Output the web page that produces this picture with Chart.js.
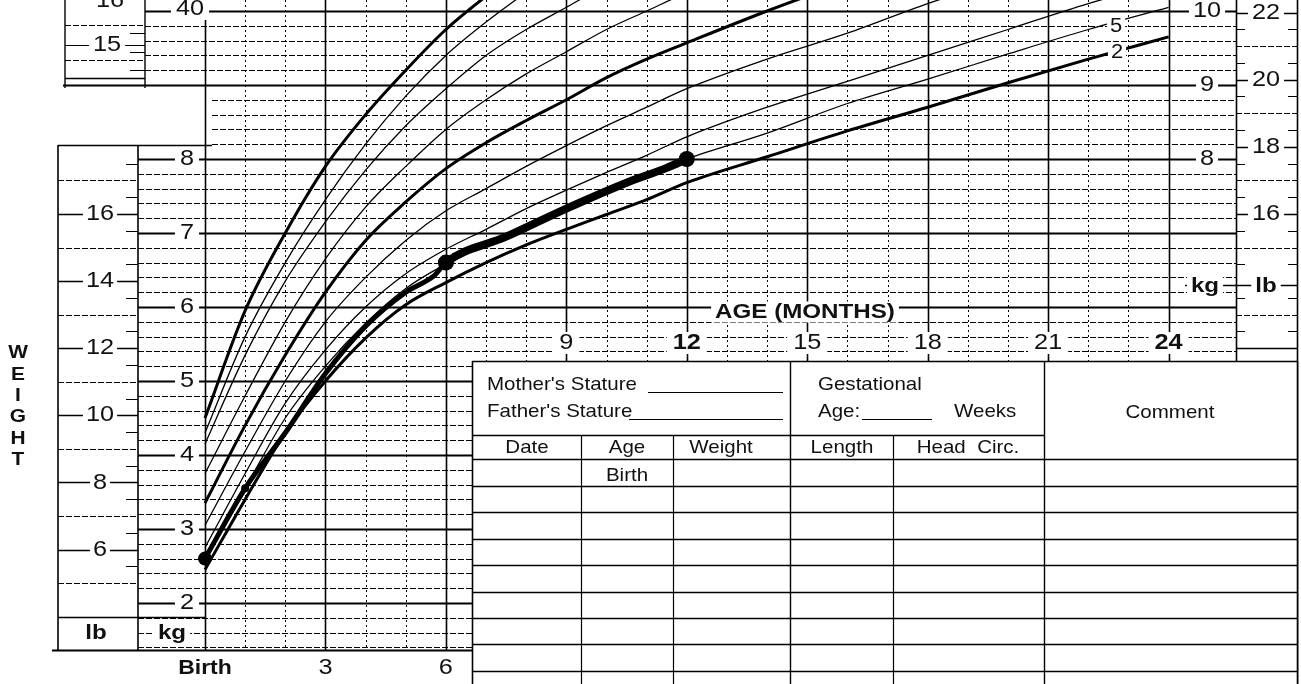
<!DOCTYPE html>
<html><head><meta charset="utf-8">
<script src="https://cdn.jsdelivr.net/npm/chart.js@4.4.1/dist/chart.umd.min.js"></script>
<style>html,body{margin:0;padding:0;background:#fff;}canvas{display:block;}</style>
</head><body>
<canvas id="c" width="1301" height="684"></canvas>
<script>
// ---------- DATA ----------
const months = [0,1,2,3,4,5,6,7,8,9,10,11,12,14,16,18,20,22,24];
const p98 = [4.5,5.95,7.0,7.9,8.6,9.2,9.75,10.2,10.6,10.95,11.3,11.6,11.9,12.4,12.9,13.3,13.7,14.1,14.5];
const p95 = [4.3,5.6,6.6,7.45,8.2,8.85,9.4,9.85,10.25,10.6,10.9,11.2,11.45,11.95,12.4,12.8,13.2,13.6,13.9];
const p90 = [4.15,5.35,6.35,7.15,7.85,8.45,8.95,9.4,9.75,10.05,10.35,10.6,10.85,11.3,11.7,12.1,12.5,12.85,13.2];
const p75 = [3.75,4.8,5.8,6.65,7.35,7.9,8.4,8.8,9.15,9.45,9.75,10.0,10.25,10.7,11.1,11.5,11.85,12.2,12.5];
const p50 = [3.35,4.4,5.35,6.2,6.9,7.42,7.87,8.22,8.52,8.8,9.1,9.35,9.57,10.0,10.4,10.8,11.15,11.5,11.8];
const p25 = [3.05,4.05,5.0,5.8,6.4,6.9,7.3,7.6,7.9,8.18,8.45,8.7,8.95,9.35,9.7,10.1,10.45,10.8,11.1];
const p10 = [2.75,3.75,4.7,5.42,6.0,6.45,6.78,7.05,7.33,7.58,7.82,8.05,8.3,8.7,9.05,9.4,9.75,10.1,10.4];
const p5  = [2.6,3.55,4.5,5.2,5.78,6.25,6.58,6.85,7.1,7.32,7.55,7.78,8.0,8.35,8.75,9.08,9.42,9.75,10.05];
const p2  = [2.45,3.4,4.3,5.0,5.58,6.03,6.33,6.6,6.84,7.05,7.25,7.45,7.68,8.03,8.38,8.7,9.03,9.35,9.65];
const percentileNames = ['98','95','90','75','50','25','10','5','2'];
const majorPercentiles = ['98','50','2'];

const patientMonths = [0,1,2,3,4,5,5.7,6,7.5,9,10.5,11.5,12];
const patientKg     = [2.6,3.55,4.3,5.1,5.74,6.2,6.42,6.6,6.95,7.33,7.68,7.88,8.0];
const visitAges     = [0,1,6,12];

const lowerAgeTicks  = [0,3,6];
const lowerAgeLabels = ['Birth','3','6'];
const upperAgeTicks  = [9,12,15,18,21,24];
const upperAgeLabels = ['9','12','15','18','21','24'];
const boldAges = [0,12,24];
const kgTicksLeft  = [2,3,4,5,6,7,8];
const kgTicksRight = [8,9,10];
const lbTicksLeft  = [6,8,10,12,14,16];
const lbTicksRight = [16,18,20,22];

// ---------- GEOMETRY ----------
const W = 1301, H = 684;
const X_BIRTH = 205, PX_PER_MONTH = 40.15, Y_KG0 = 751, PX_PER_KG = 74;
const KG_PER_LB = 0.45359237;
const TABLE_TOP = 361, TABLE_LEFT = 472, RIGHT_EDGE = 1236, FAR_RIGHT = 1297, GRID_BOTTOM = 650;
const FONT = '"Liberation Sans", Arial, Helvetica, sans-serif';

function L(ctx, x1, y1, x2, y2, w, dash) {
  ctx.beginPath(); ctx.lineWidth = w; ctx.setLineDash(dash || []);
  ctx.moveTo(x1, y1); ctx.lineTo(x2, y2); ctx.stroke(); ctx.setLineDash([]);
}
function T(ctx, s, x, y, size, bold, align, sx, bg) {
  sx = sx || 1; align = align || 'center';
  ctx.save();
  ctx.font = (bold ? 'bold ' : '') + size + 'px ' + FONT;
  ctx.textAlign = align; ctx.textBaseline = 'middle';
  const w = ctx.measureText(s).width * sx;
  if (bg !== undefined && bg !== null) {
    const left = align === 'left' ? x : (align === 'right' ? x - w : x - w / 2);
    ctx.fillStyle = '#fff';
    ctx.fillRect(left - bg, y - size * 0.5, w + 2 * bg, size * 1.0);
  }
  ctx.translate(x, y); ctx.scale(sx, 1);
  ctx.fillStyle = '#111'; ctx.fillText(s, 0, 0);
  ctx.restore();
}

const formPlugin = {
  id: 'form',
  beforeDatasetsDraw(chart) {
    const ctx = chart.ctx, xs = chart.scales.x, ys = chart.scales.y;
    const X = m => xs.getPixelForValue(m), Y = k => ys.getPixelForValue(k), YL = lb => Y(lb * KG_PER_LB);
    ctx.save();
    ctx.fillStyle = '#fff'; ctx.fillRect(0, 0, W, H);
    ctx.strokeStyle = '#000';

    // horizontal kg grid (0.2 kg)
    for (let i = 7; i <= 51; i++) {
      const kg = i / 5, y = Math.round(Y(kg)) + 0.5;
      if (y < 2 || y > GRID_BOTTOM - 1) continue;
      const x1 = y < 88 ? 145 : (y < 145 ? 212 : 138);
      const x2 = y > TABLE_TOP - 4 ? TABLE_LEFT : RIGHT_EDGE;
      if (i % 5 === 0) L(ctx, x1, y, x2, y, 1.8);
      else L(ctx, x1, y, x2, y, 1, [6, 2]);
    }
    // vertical month grid
    for (let m = 0; m <= 24; m++) {
      const x = Math.round(X(m)) + 0.5;
      const yb = x < TABLE_LEFT ? GRID_BOTTOM : TABLE_TOP;
      if (m % 3 === 0) L(ctx, x, 0, x, yb, 1.6);
      else L(ctx, x, 0, x, yb, 1, [2, 3]);
    }

    // left lb column
    L(ctx, 58, 145, 58, GRID_BOTTOM, 1.6);
    L(ctx, 138, 145, 138, GRID_BOTTOM, 1.6);
    L(ctx, 58, 145.5, 212, 145.5, 1.6);
    L(ctx, 58, 617.5, 205, 617.5, 1.6);
    L(ctx, 52, GRID_BOTTOM + .5, TABLE_LEFT, GRID_BOTTOM + .5, 1.8);
    for (let lb = 5; lb <= 17.5; lb += 0.5) {
      const y = Math.round(YL(lb)) + 0.5;
      if (y < 148 || y > 615) continue;
      if (lb % 2 === 0) L(ctx, 58, y, 138, y, 1.4);
      else if (lb % 1 === 0) L(ctx, 58, y, 138, y, 1, [6, 2]);
      else L(ctx, 126, y, 138, y, 1);
    }
    lbTicksLeft.forEach(lb => T(ctx, String(lb), 100, YL(lb), 22, false, 'center', 1.15, 3));
    kgTicksLeft.forEach(kg => T(ctx, String(kg), 187, Y(kg), 22, false, 'center', 1.15, 5));
    T(ctx, 'lb', 96, 633, 21, true, 'center', 1.15, 4);
    T(ctx, 'kg', 172, 633, 21, true, 'center', 1.15, 4);

    // top-left panel (length chart fragment)
    L(ctx, 65, 0, 65, 88, 1.4);
    L(ctx, 145, 0, 145, 88, 1.4);
    L(ctx, 65, 78.5, 145, 78.5, 1.4);
    L(ctx, 63, Math.round(Y(9)) + .5, 145, Math.round(Y(9)) + .5, 1.8);
    L(ctx, 65, 25.5, 145, 25.5, 1, [6, 2]);
    L(ctx, 65, 60.5, 145, 60.5, 1, [6, 2]);
    [33, 52, 70].forEach(y => L(ctx, 130, y + .5, 145, y + .5, 1));
    L(ctx, 65, 45.5, 145, 45.5, 1.2);
    T(ctx, '15', 107, 45, 22, false, 'center', 1.15, 4);
    T(ctx, '16', 110, 1, 22, false, 'center', 1.15, 4);
    T(ctx, '40', 190, 9, 22, false, 'center', 1.15, 5);

    // right lb column
    L(ctx, RIGHT_EDGE + .5, 0, RIGHT_EDGE + .5, TABLE_TOP, 1.6);
    L(ctx, FAR_RIGHT + .5, 0, FAR_RIGHT + .5, H, 1.6);
    L(ctx, RIGHT_EDGE, 348.5, FAR_RIGHT, 348.5, 1.4);
    for (let lb = 12.5; lb <= 23; lb += 0.5) {
      const y = Math.round(YL(lb)) + 0.5;
      if (y < 2 || y > 346) continue;
      if (lb === 14) continue;
      if (lb % 2 === 0) L(ctx, RIGHT_EDGE, y, FAR_RIGHT, y, 1.4);
      else if (lb % 1 === 0) L(ctx, RIGHT_EDGE, y, FAR_RIGHT, y, 1, [6, 2]);
      else { L(ctx, RIGHT_EDGE, y, RIGHT_EDGE + 9, y, 1); L(ctx, FAR_RIGHT - 9, y, FAR_RIGHT, y, 1); }
    }
    L(ctx, 1185, 285.5, FAR_RIGHT, 285.5, 1.4);
    lbTicksRight.forEach(lb => T(ctx, String(lb), 1266, YL(lb), 22, false, 'center', 1.15, 4));
    kgTicksRight.forEach(kg => T(ctx, String(kg), 1207, Y(kg), 22, false, 'center', 1.15, 4));
    T(ctx, 'kg', 1205, 286, 21, true, 'center', 1.15, 4);
    T(ctx, 'lb', 1266, 286, 21, true, 'center', 1.15, 4);

    // age labels
    lowerAgeTicks.forEach((m, i) => T(ctx, lowerAgeLabels[i], X(m), 668, m === 0 ? 20 : 22, boldAges.includes(m), 'center', 1.15));
    upperAgeTicks.forEach((m, i) => T(ctx, upperAgeLabels[i], X(m), 343, 22, boldAges.includes(m), 'center', 1.15, 6));
    T(ctx, 'AGE (MONTHS)', 805, 312, 21, true, 'center', 1.15, 4);

    // WEIGHT vertical title
    ['W','E','I','G','H','T'].forEach((c, i) => T(ctx, c, 18, 353 + i * 21.4, 19, true, 'center', 1.1));

    // ---- record table ----
    ctx.fillStyle = '#fff'; ctx.fillRect(TABLE_LEFT, TABLE_TOP, FAR_RIGHT - TABLE_LEFT, H - TABLE_TOP);
    ctx.strokeStyle = '#000';
    L(ctx, TABLE_LEFT, TABLE_TOP + .5, FAR_RIGHT, TABLE_TOP + .5, 1.6);
    L(ctx, TABLE_LEFT + .5, TABLE_TOP, TABLE_LEFT + .5, H, 1.6);
    L(ctx, 790.5, TABLE_TOP, 790.5, H, 1.4);
    L(ctx, 1044.5, TABLE_TOP, 1044.5, H, 1.4);
    L(ctx, FAR_RIGHT + .5, TABLE_TOP, FAR_RIGHT + .5, H, 1.6);
    L(ctx, TABLE_LEFT, 435.5, 1044, 435.5, 1.3);
    [459, 486, 512, 539, 565, 592, 618, 644, 671].forEach(y => L(ctx, TABLE_LEFT, y + .5, FAR_RIGHT, y + .5, 1.3));
    [581, 673, 893].forEach(x => L(ctx, x + .5, 435, x + .5, H, 1.2));
    T(ctx, "Mother's Stature", 487, 385, 19, false, 'left', 1.08);
    L(ctx, 648, 392.5, 783, 392.5, 1.2);
    T(ctx, "Father's Stature", 487, 412, 19, false, 'left', 1.08);
    L(ctx, 629, 419.5, 783, 419.5, 1.2);
    T(ctx, 'Gestational', 818, 385, 19, false, 'left', 1.08);
    T(ctx, 'Age:', 818, 412, 19, false, 'left', 1.08);
    L(ctx, 862, 419.5, 932, 419.5, 1.2);
    T(ctx, 'Weeks', 954, 412, 19, false, 'left', 1.08);
    T(ctx, 'Date', 527, 448, 19, false, 'center', 1.08);
    T(ctx, 'Age', 627, 448, 19, false, 'center', 1.08);
    T(ctx, 'Weight', 721, 448, 19, false, 'center', 1.08);
    T(ctx, 'Length', 842, 448, 19, false, 'center', 1.08);
    T(ctx, 'Head  Circ.', 968, 448, 19, false, 'center', 1.08);
    T(ctx, 'Birth', 627, 476, 19, false, 'center', 1.08);
    T(ctx, 'Comment', 1170, 413, 19, false, 'center', 1.08);
    ctx.restore();
  },
  afterDatasetsDraw(chart) {
    const ctx = chart.ctx;
    T(ctx, '5', 1116, 26, 20, false, 'center', 1.1, 3);
    T(ctx, '2', 1117, 52, 20, false, 'center', 1.1, 3);
  }
};

const curves = [p98, p95, p90, p75, p50, p25, p10, p5, p2];
const datasets = curves.map((arr, i) => ({
  label: 'P' + percentileNames[i],
  data: months.map((m, j) => ({ x: m, y: arr[j] })),
  borderColor: '#000',
  borderWidth: majorPercentiles.includes(percentileNames[i]) ? 3 : 1.3,
  pointRadius: 0,
  cubicInterpolationMode: 'monotone',
  fill: false
}));
datasets.push({
  label: 'Patient',
  data: patientMonths.map((m, j) => ({ x: m, y: patientKg[j] })),
  borderColor: '#000',
  backgroundColor: '#000',
  borderWidth: 5,
  segment: { borderWidth: c => (c.p0.parsed.x >= 6 ? 8 : 5) },
  pointRadius: c => {
    const x = c.raw ? c.raw.x : null;
    if (!visitAges.includes(x)) return 0;
    return x === 1 ? 4 : (x === 0 ? 7 : 8);
  },
  pointBorderWidth: 0,
  cubicInterpolationMode: 'monotone',
  clip: false
});

new Chart(document.getElementById('c'), {
  type: 'line',
  data: { datasets },
  options: {
    responsive: false, animation: false, devicePixelRatio: 1, events: [],
    layout: { padding: 0, autoPadding: false },
    plugins: { legend: { display: false }, tooltip: { enabled: false } },
    scales: {
      x: { type: 'linear', display: false, min: -X_BIRTH / PX_PER_MONTH, max: (W - X_BIRTH) / PX_PER_MONTH },
      y: { type: 'linear', display: false, min: (Y_KG0 - H) / PX_PER_KG, max: Y_KG0 / PX_PER_KG }
    }
  },
  plugins: [formPlugin]
});
</script>
</body></html>
